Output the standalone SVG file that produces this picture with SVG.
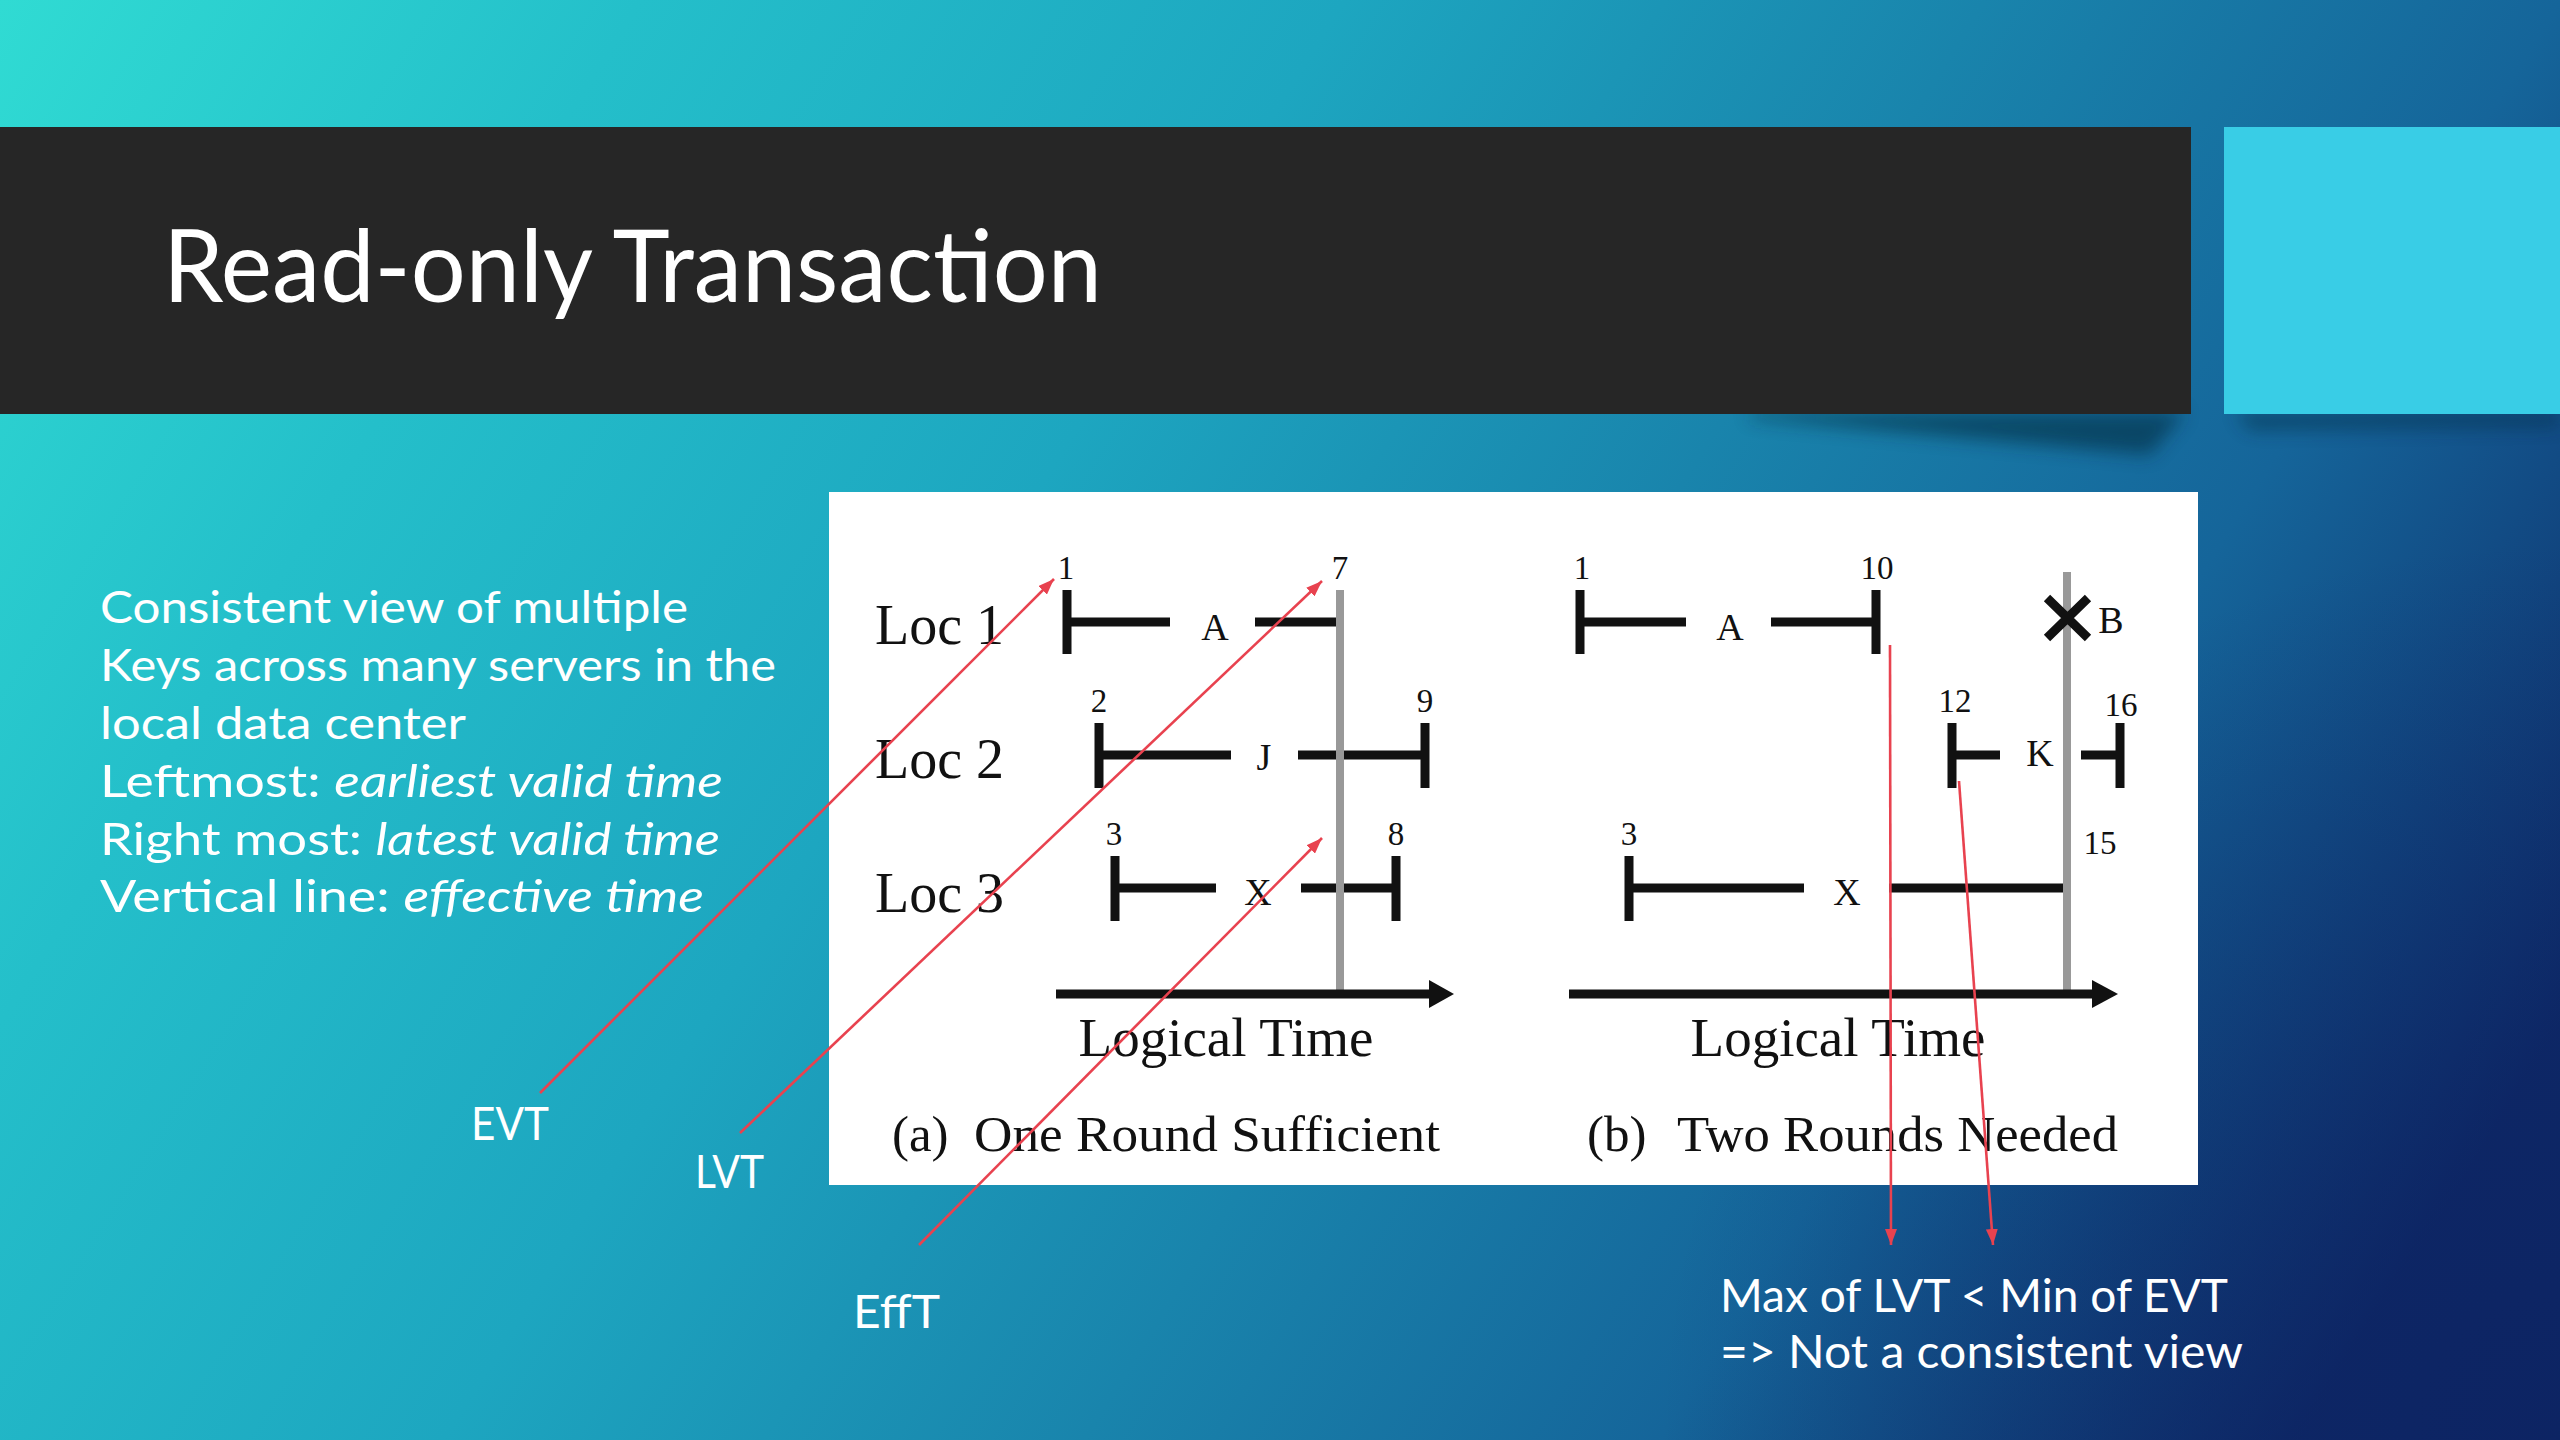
<svg xmlns="http://www.w3.org/2000/svg" width="2560" height="1440" viewBox="0 0 2560 1440">
  <defs>
    <linearGradient id="bg" gradientUnits="userSpaceOnUse" x1="0" y1="0" x2="2300" y2="1440">
      <stop offset="0" stop-color="#30DBD3"/>
      <stop offset="0.2" stop-color="#24BFCA"/>
      <stop offset="0.42" stop-color="#1DA6C0"/>
      <stop offset="0.62" stop-color="#1984AC"/>
      <stop offset="0.8" stop-color="#15659A"/>
      <stop offset="1" stop-color="#0E2A68"/>
    </linearGradient>
    <radialGradient id="vign" gradientUnits="userSpaceOnUse" cx="2560" cy="1440" r="900">
      <stop offset="0" stop-color="#0C2060" stop-opacity="0.6"/>
      <stop offset="1" stop-color="#0C2060" stop-opacity="0"/>
    </radialGradient>
    <filter id="blur" x="-20%" y="-200%" width="140%" height="500%">
      <feGaussianBlur stdDeviation="9"/>
    </filter>
    <marker id="arr" markerUnits="userSpaceOnUse" markerWidth="18" markerHeight="12" refX="16" refY="6" orient="auto">
      <path d="M0,0 L16,6 L0,12 Z" fill="#E8424F"/>
    </marker>
    <style>
      .sans { font-family: Lato, "Open Sans", "Liberation Sans", sans-serif; fill: #FFFFFF; }
      .serif { font-family: "Liberation Serif", "Times New Roman", serif; fill: #111111; }
      .bar { stroke: #111111; stroke-width: 9; fill: none; }
      .eff { stroke: #999999; stroke-width: 8; fill: none; }
      .num { font-size: 33px; text-anchor: middle; }
      .key { font-size: 38px; text-anchor: middle; }
      .loc { font-size: 56px; }
      .axl { font-size: 55px; text-anchor: middle; }
      .cap { font-size: 51px; }
      .body { font-size: 44px; }
      .lbl { font-size: 46px; }
      .red { stroke: #E8424F; stroke-width: 2.6; fill: none; marker-end: url(#arr); }
    </style>
  </defs>

  <rect x="0" y="0" width="2560" height="1440" fill="url(#bg)"/>
  <rect x="0" y="0" width="2560" height="1440" fill="url(#vign)"/>

  <g id="header">
    <path d="M1750,412 L2185,412 L2150,455 L1750,418 Z" fill="#062838" opacity="0.55" filter="url(#blur)"/>
    <path d="M2235,412 L2560,412 L2560,426 L2250,430 Z" fill="#062838" opacity="0.45" filter="url(#blur)"/>
    <rect x="0" y="127" width="2191" height="287" fill="#262626"/>
    <rect x="2224" y="127" width="336" height="287" fill="#39CDE6"/>
    <text class="sans" x="163" y="302" font-size="100" textLength="939" lengthAdjust="spacingAndGlyphs">Read-only Transaction</text>
  </g>

  <g id="description" class="sans body">
    <text x="100" y="623" textLength="588" lengthAdjust="spacingAndGlyphs">Consistent view of multiple</text>
    <text x="100" y="681" textLength="676" lengthAdjust="spacingAndGlyphs">Keys across many servers in the</text>
    <text x="100" y="739" textLength="366" lengthAdjust="spacingAndGlyphs">local data center</text>
    <text x="100" y="797" textLength="623" lengthAdjust="spacingAndGlyphs">Leftmost: <tspan font-style="italic">earliest valid time</tspan></text>
    <text x="100" y="855" textLength="620" lengthAdjust="spacingAndGlyphs">Right most: <tspan font-style="italic">latest valid time</tspan></text>
    <text x="100" y="912" textLength="604" lengthAdjust="spacingAndGlyphs">Vertical line: <tspan font-style="italic">effective time</tspan></text>
  </g>

  <g id="figure-panel">
    <rect x="829" y="492" width="1369" height="693" fill="#FFFFFF"/>
  </g>

  <g id="panel-a">
    <text class="serif loc" x="875" y="644">Loc 1</text>
    <text class="serif loc" x="875" y="778">Loc 2</text>
    <text class="serif loc" x="875" y="912">Loc 3</text>
    <!-- Loc 1 : A -->
    <path class="bar" d="M1067,590 V654 M1067,622 H1170 M1255,622 H1338"/>
    <text class="serif key" x="1215" y="640">A</text>
    <text class="serif num" x="1066" y="579">1</text>
    <text class="serif num" x="1340" y="579">7</text>
    <!-- Loc 2 : J -->
    <path class="bar" d="M1099,723 V788 M1099,755 H1231 M1298,755 H1425 M1425,723 V788"/>
    <text class="serif key" x="1264" y="770">J</text>
    <text class="serif num" x="1099" y="712">2</text>
    <text class="serif num" x="1425" y="712">9</text>
    <!-- Loc 3 : X -->
    <path class="bar" d="M1115,856 V921 M1115,888 H1216 M1301,888 H1396 M1396,856 V921"/>
    <text class="serif key" x="1258" y="905">X</text>
    <text class="serif num" x="1114" y="845">3</text>
    <text class="serif num" x="1396" y="845">8</text>
    <!-- effective time -->
    <path class="eff" d="M1340,590 V994"/>
    <!-- axis -->
    <path class="bar" d="M1056,994 H1432"/>
    <path d="M1429,980 L1454,994 L1429,1008 Z" fill="#111111"/>
    <text class="serif axl" x="1226" y="1056">Logical Time</text>
    <text class="serif cap" x="892" y="1151">(a)</text>
    <text class="serif cap" x="974" y="1151" textLength="466" lengthAdjust="spacingAndGlyphs">One Round Sufficient</text>
  </g>

  <g id="panel-b">
    <!-- Loc 1 : A, B -->
    <path class="bar" d="M1580,590 V654 M1580,622 H1686 M1771,622 H1876 M1876,590 V654"/>
    <text class="serif key" x="1730" y="640">A</text>
    <text class="serif num" x="1582" y="579">1</text>
    <text class="serif num" x="1877" y="579">10</text>
    <!-- Loc 2 : K -->
    <path class="bar" d="M1952,723 V788 M1952,755 H2000 M2081,755 H2120 M2120,723 V788"/>
    <text class="serif key" x="2040" y="766">K</text>
    <text class="serif num" x="1955" y="712">12</text>
    <text class="serif num" x="2121" y="716">16</text>
    <!-- Loc 3 : X -->
    <path class="bar" d="M1629,856 V921 M1629,888 H1804 M1889,888 H2065"/>
    <text class="serif key" x="1847" y="905">X</text>
    <text class="serif num" x="1629" y="845">3</text>
    <text class="serif num" x="2100" y="854">15</text>
    <!-- effective time -->
    <path class="eff" d="M2067,572 V992"/>
    <path class="bar" d="M2047,598 L2088,638 M2088,598 L2047,638"/>
    <text class="serif key" x="2111" y="633">B</text>
    <!-- axis -->
    <path class="bar" d="M1569,994 H2095"/>
    <path d="M2092,980 L2118,994 L2092,1008 Z" fill="#111111"/>
    <text class="serif axl" x="1838" y="1056">Logical Time</text>
    <text class="serif cap" x="1587" y="1151">(b)</text>
    <text class="serif cap" x="1677" y="1151" textLength="441" lengthAdjust="spacingAndGlyphs">Two Rounds Needed</text>
  </g>

  <g id="label-evt"><text class="sans lbl" x="471" y="1140" textLength="78" lengthAdjust="spacingAndGlyphs">EVT</text></g>
  <g id="label-lvt"><text class="sans lbl" x="695" y="1188" textLength="69" lengthAdjust="spacingAndGlyphs">LVT</text></g>
  <g id="label-efft"><text class="sans lbl" x="853" y="1328" textLength="87" lengthAdjust="spacingAndGlyphs">EffT</text></g>
  <g id="note" class="sans lbl">
    <text x="1720" y="1312" textLength="508" lengthAdjust="spacingAndGlyphs">Max of LVT &lt; Min of EVT</text>
    <text x="1720" y="1368" textLength="523" lengthAdjust="spacingAndGlyphs">=&gt; Not a consistent view</text>
  </g>

  <g id="connectors">
    <path class="red" d="M540,1093 L1054,579"/>
    <path class="red" d="M740,1133 L1322,581"/>
    <path class="red" d="M919,1245 L1322,838"/>
    <path class="red" d="M1890,645 L1891,1245"/>
    <path class="red" d="M1959,781 L1993,1245"/>
  </g>
</svg>
